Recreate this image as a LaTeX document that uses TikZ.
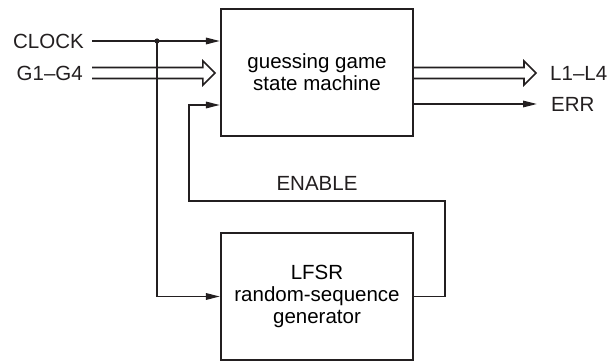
\documentclass[tikz,border=0pt]{standalone}
\usepackage{fontspec}
\setmainfont{Liberation Sans}
\usepackage{xcolor}
\usepackage{tikz}
\usetikzlibrary{positioning, arrows.meta, calc}
\definecolor{inkblack}{HTML}{231F20}

\tikzset{
  block/.style={draw=inkblack, line width=2.2pt, minimum width=192pt, minimum height=127pt,
                align=center, font=\fontsize{20.5}{22}\selectfont},
  sig/.style={draw=inkblack, line width=1.6pt, -{Triangle[length=14pt,width=6.5pt]}},
  wire/.style={draw=inkblack, line width=1.6pt},
  lbl/.style={inner sep=0pt, font=\fontsize{20.5}{22}\selectfont, text=inkblack}
}

% hollow bus arrow: from, to
\newcommand{\busarrow}[2]{%
  \draw[wire] let \p1=(#1), \p2=(#2) in
    (\x1,\y1+5.5pt) -- (\x2-12pt,\y1+5.5pt) -- (\x2-12pt,\y1+12pt) -- (\x2,\y1)
    -- (\x2-12pt,\y1-12pt) -- (\x2-12pt,\y1-5.5pt) -- (\x1,\y1-5.5pt);}

\begin{document}
\begin{tikzpicture}[x=1pt, y=-1pt]
  \useasboundingbox (0,0) rectangle (610,363);

  \node[block] (sm) at (317,72.5) {guessing game\\state machine};
  \node[block] (lfsr) at (317,296.5) {LFSR\\random-sequence\\generator};

  \node[lbl, anchor=east] (clk) at (84,41) {CLOCK};
  \node[lbl, anchor=east] (g14) at (83,73) {G1--G4};
  \node[lbl, anchor=west] (l14) at (550,73) {L1--L4};
  \node[lbl, anchor=west] (err) at (551,104) {ERR};
  \node[lbl] (en) at (317,183) {ENABLE};

  \coordinate (split) at (157,41);
  \coordinate (enR) at (445,201);
  \coordinate (enL) at (189,201);

  % inputs
  \draw[sig] ([xshift=8pt]clk.east) -- (sm.west |- clk.east);
  \fill[inkblack] (split) circle (2.6pt);
  \draw[sig] (split) |- (lfsr.west);
  \busarrow{[xshift=9pt]g14.east}{[xshift=-5pt]sm.west |- g14.east}

  % enable loop
  \draw[sig] (lfsr.east) -| (enR) -- (enL) |- ([yshift=-32.5pt]sm.west);

  % outputs
  \busarrow{sm.east |- l14.west}{[xshift=-14pt]l14.west}
  \draw[sig] (sm.east |- err.west) -- ([xshift=-14pt]err.west);
\end{tikzpicture}
\end{document}
